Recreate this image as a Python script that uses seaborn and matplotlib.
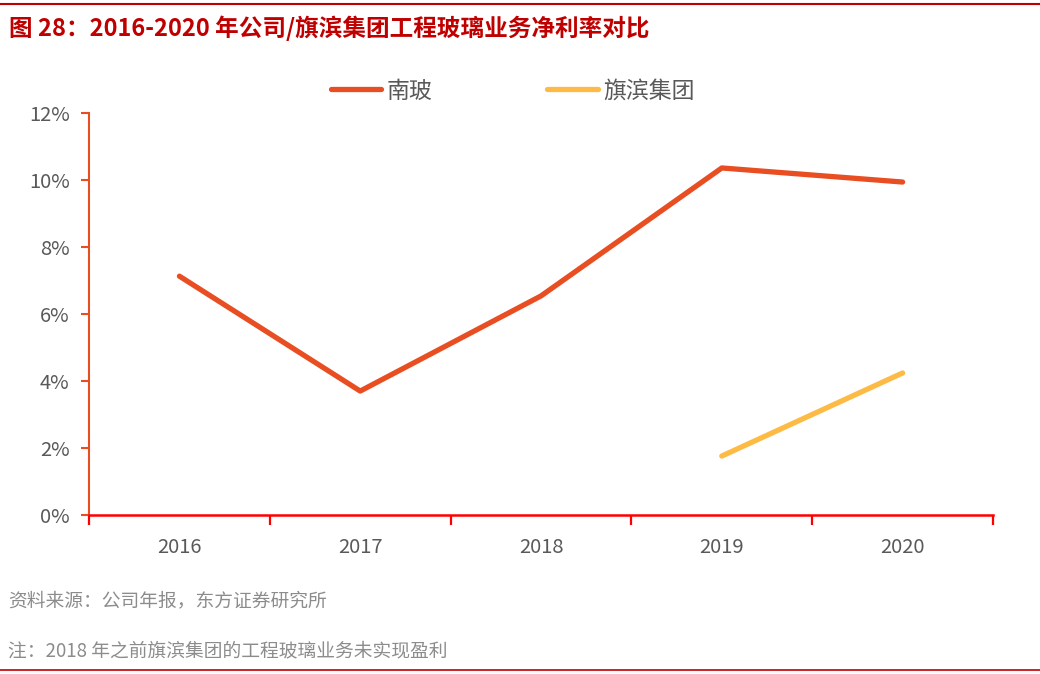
import pandas as pd
import matplotlib.pyplot as plt
import seaborn as sns
from matplotlib.ticker import FixedLocator, FuncFormatter
from matplotlib.lines import Line2D

years = ["2016", "2017", "2018", "2019", "2020"]
nanbo = [7.13, 3.70, 6.54, 10.36, 9.94]
qibin_years = ["2019", "2020"]
qibin = [1.76, 4.24]

df_nb = pd.DataFrame({"pos": range(len(years)), "val": nanbo})
df_qb = pd.DataFrame({"pos": [years.index(y) for y in qibin_years], "val": qibin})

sns.set_theme(style="white")
plt.rcParams["font.family"] = ["Noto Sans CJK SC", "DejaVu Sans"]

c_nb = "#E84E22"
c_qb = "#FDBB45"
red = "#FF0000"
txt = "#595959"

fig = plt.figure(figsize=(10.4, 6.74), dpi=100)
ax = fig.add_axes([0.0856, 0.2359, 0.8692, 0.5964])

sns.lineplot(data=df_nb, x="pos", y="val", ax=ax, color=c_nb, linewidth=3.8,
             solid_capstyle="round", label="南玻", legend=False)
sns.lineplot(data=df_qb, x="pos", y="val", ax=ax, color=c_qb, linewidth=3.8,
             solid_capstyle="round", label="旗滨集团", legend=False)

ax.set_xlim(-0.5, 4.5)
ax.set_ylim(0, 12)
ax.set_yticks(range(0, 13, 2))
ax.yaxis.set_major_formatter(FuncFormatter(lambda v, p: f"{int(v)}%"))
ax.set_xticks(range(len(years)))
ax.set_xticklabels(years)
ax.xaxis.set_minor_locator(FixedLocator([i - 0.5 for i in range(len(years) + 1)]))
ax.tick_params(axis="x", which="major", bottom=True, length=0, pad=16,
               labelsize=14.5, labelcolor=txt)
ax.tick_params(axis="x", which="minor", bottom=True, length=7, width=1.6,
               color=red, direction="out")
ax.tick_params(axis="y", which="major", left=True, length=6, width=1.5, color=c_nb,
               direction="out", labelsize=14.5, labelcolor=txt, pad=8)
ax.set_xlabel("")
ax.set_ylabel("")
for s in ["top", "right"]:
    ax.spines[s].set_visible(False)
ax.spines["left"].set_color(c_nb)
ax.spines["left"].set_linewidth(1.5)
ax.spines["bottom"].set_color(red)
ax.spines["bottom"].set_linewidth(1.8)
ax.grid(False)

handles = [Line2D([], [], color=c_nb, lw=3.8, solid_capstyle="round"),
           Line2D([], [], color=c_qb, lw=3.8, solid_capstyle="round")]
fig.legend(handles, ["南玻", "旗滨集团"], loc="center", bbox_to_anchor=(0.493, 0.865),
           ncol=2, frameon=False, fontsize=16.5, handlelength=2.2, handletextpad=0.25,
           columnspacing=5.0, labelcolor=txt)

fig.text(0.009, 0.958, "图 28：2016-2020 年公司/旗滨集团工程玻璃业务净利率对比",
         color="#C00000", fontsize=17, fontweight="bold", va="center", ha="left")
fig.add_artist(Line2D([0, 1], [0.994, 0.994], color="#C00000", lw=1.5))
fig.text(0.008, 0.108, "资料来源：公司年报，东方证券研究所", color="#8C8C8C", fontsize=13.5,
         va="center", ha="left")
fig.text(0.008, 0.034, "注：2018 年之前旗滨集团的工程玻璃业务未实现盈利", color="#8C8C8C",
         fontsize=13.5, va="center", ha="left")
fig.add_artist(Line2D([0, 1], [0.006, 0.006], color="#C00000", lw=1.2))

fig.savefig("out.png", dpi=100)
